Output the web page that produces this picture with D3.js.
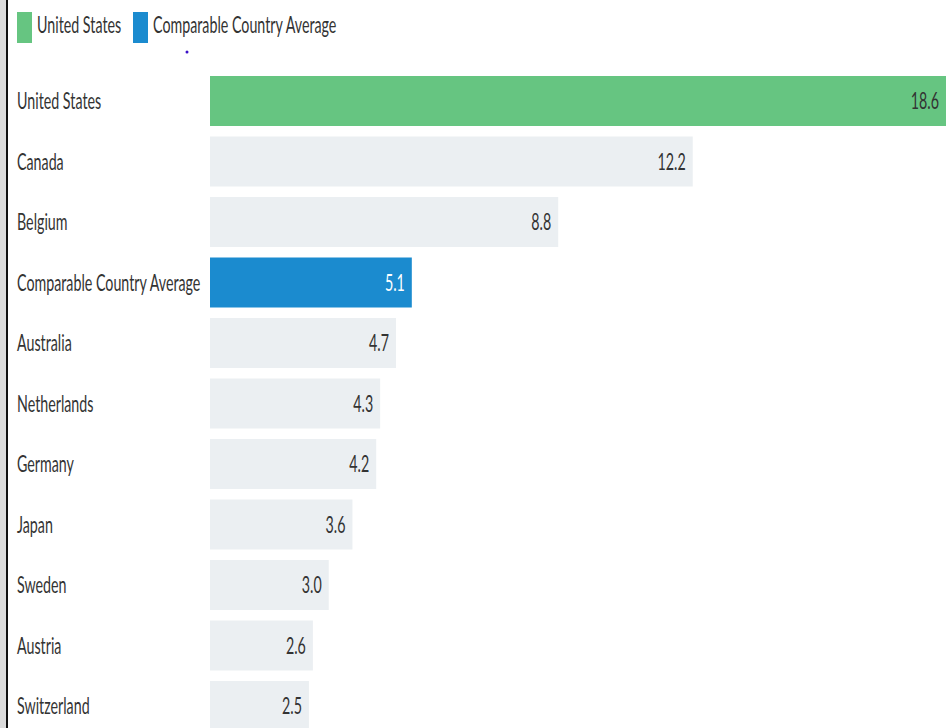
<!DOCTYPE html>
<html>
<head>
<meta charset="utf-8">
<script src="https://cdn.jsdelivr.net/npm/d3@7"></script>
<style>
  html, body { margin: 0; padding: 0; background: #fff; }
  svg { display: block; font-family: Lato, "Noto Sans", sans-serif; }
</style>
</head>
<body>
<svg id="chart" width="946" height="728"></svg>
<script>
const countries = ["United States", "Canada", "Belgium", "Comparable Country Average", "Australia",
  "Netherlands", "Germany", "Japan", "Sweden", "Austria", "Switzerland"];
const values = [18.6, 12.2, 8.8, 5.1, 4.7, 4.3, 4.2, 3.6, 3.0, 2.6, 2.5];
const legendItems = ["United States", "Comparable Country Average"];

const colors = { "United States": "#66c581", "Comparable Country Average": "#1b8bcf" };
const otherColor = "#ebeff2";
const fontSize = 23;
const squash = 0.62; // text in the reference is squeezed sideways

const svg = d3.select("#chart");
const margin = { top: 76, left: 210, right: 0 };
const width = 946;
const step = 60.5, barH = 50;

// left frame
svg.append("rect").attr("x", 0).attr("y", 0).attr("width", 6).attr("height", 728).attr("fill", "#dcdcdc");
svg.append("rect").attr("x", 6).attr("y", 0).attr("width", 2).attr("height", 728).attr("fill", "#111");

const x = d3.scaleLinear().domain([0, 18.6]).range([margin.left, width - margin.right]);
const y = d3.scaleBand().domain(countries)
  .range([margin.top, margin.top + step * (countries.length - 1) + barH])
  .paddingInner((step - barH) / step).paddingOuter(0);

const data = countries.map((c, i) => ({ name: c, value: values[i] }));

const rows = svg.append("g").selectAll("g").data(data).join("g");

rows.append("rect")
  .attr("x", x(0))
  .attr("y", d => y(d.name))
  .attr("width", d => x(d.value) - x(0))
  .attr("height", y.bandwidth())
  .attr("fill", d => colors[d.name] || otherColor);

const sq = (sel, tx, ty) => sel.attr("transform", `translate(${tx},${ty}) scale(${squash},1)`);

rows.append("text")
  .each(function(d) { sq(d3.select(this), 17, y(d.name) + y.bandwidth() / 2 + 8); })
  .attr("font-size", fontSize)
  .attr("fill", "#333")
  .text(d => d.name);

rows.append("text")
  .each(function(d) { sq(d3.select(this), x(d.value) - 7, y(d.name) + y.bandwidth() / 2 + 8); })
  .attr("font-size", fontSize)
  .attr("text-anchor", "end")
  .attr("fill", d => d.name === "Comparable Country Average" ? "#fff" : "#333")
  .text(d => d.value.toFixed(1));

// legend
const legendX = [17, 133];
const lg = svg.append("g").selectAll("g").data(legendItems).join("g");
lg.append("rect")
  .attr("x", (d, i) => legendX[i])
  .attr("y", 12)
  .attr("width", 15)
  .attr("height", 31)
  .attr("fill", d => colors[d]);
lg.append("text")
  .each(function(d, i) { sq(d3.select(this), legendX[i] + 20, 33); })
  .attr("font-size", fontSize)
  .attr("fill", "#333")
  .text(d => d);

svg.append("circle").attr("cx", 187).attr("cy", 52).attr("r", 1.5).attr("fill", "#3a10c8");
</script>
</body>
</html>
